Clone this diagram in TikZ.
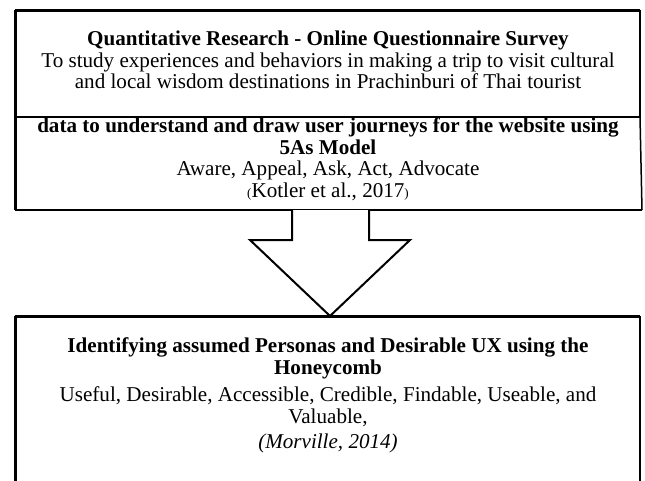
\documentclass[tikz,border=0pt]{standalone}
\usepackage{fontspec}
\setmainfont{Liberation Serif}
\begin{document}
\begin{tikzpicture}[x=1pt,y=-1pt,
  txt/.style={anchor=base,inner sep=0pt,font=\fontsize{21.1}{24}\selectfont},
  btxt/.style={txt,font=\fontsize{21.1}{24}\selectfont\bfseries},
  thinline/.style={line width=1.5pt},
  thickline/.style={line width=3pt},
  arrowline/.style={line width=2pt,line join=miter}]
\useasboundingbox (0,0) rectangle (645,480);
% box corners
\coordinate (b1tl) at (15,10);
\coordinate (b1tr) at (640,10);
\coordinate (b1bl) at (15,117);
\coordinate (b1br) at (640,117);
\coordinate (b2bl) at (15,210);
\coordinate (b2br) at (642,210);
\coordinate (b3tl) at (15,316);
\coordinate (b3tr) at (640,316);
\coordinate (b3bl) at (15,484);
\coordinate (b3br) at (640,484);
% top box
\draw[thinline] (b1tr) -- (b1br);
\draw[thinline] (b1bl) -- (b1br);
\draw[thinline] (b1br) -- (b2br);
\draw[line width=2.5pt] (b2bl) -- (b2br);
\draw[thickline] (b1tl) -- (b1tr);
\draw[thickline] (b1tl) -- (b2bl);
% bottom box
\draw[line width=2pt] (b3tr) -- (b3br);
\draw[thickline] (b3tl) -- (b3tr);
\draw[thickline] (b3tl) -- (b3bl);
% block arrow
\coordinate (a1) at (292,210);
\coordinate (a2) at (292,240);
\coordinate (a3) at (250,240);
\coordinate (a4) at (330,316);
\coordinate (a5) at (410,240);
\coordinate (a6) at (369,240);
\coordinate (a7) at (369,210);
\draw[arrowline,fill=white] (a1) -- (a2) -- (a3) -- (a4) -- (a5) -- (a6) -- (a7);
% texts, top box
\node[btxt] (t1a) at (328,45.7) {Quantitative Research - Online Questionnaire Survey};
\node[txt] (t1b) at (328,67.2) {To study experiences and behaviors in making a trip to visit cultural};
\node[txt] (t1c) at (328,88.7) {and local wisdom destinations in Prachinburi of Thai tourist};
% second box
\node[btxt] (t2a) at (328,132.5) {data to understand and draw user journeys for the website using};
\node[btxt] (t2b) at (328,154) {5As Model};
\node[txt] (t2c) at (328,175.5) {Aware, Appeal, Ask, Act, Advocate};
\node[txt] (t2d) at (328,197) {{\fontsize{13}{15}\selectfont (}Kotler et al., 2017{\fontsize{13}{15}\selectfont )}};
% bottom box
\node[btxt] (t3a) at (328,352.5) {Identifying assumed Personas and Desirable UX using the};
\node[btxt] (t3b) at (328,374) {Honeycomb};
\node[txt] (t4a) at (328,401.5) {Useful, Desirable, Accessible, Credible, Findable, Useable, and};
\node[txt] (t4b) at (328,423) {Valuable,};
\node[txt,font=\fontsize{21.1}{24}\selectfont\itshape] (t5) at (328,448.5) {(Morville, 2014)};
\end{tikzpicture}
\end{document}
